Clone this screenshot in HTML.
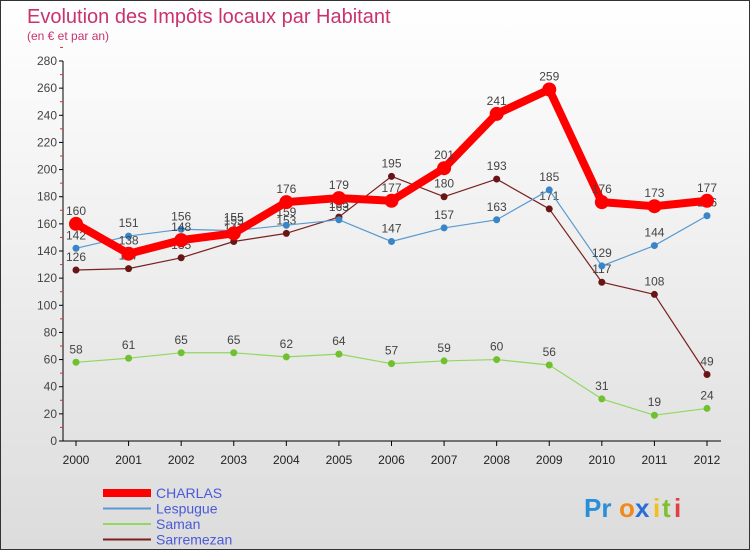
<!DOCTYPE html>
<html><head><meta charset="utf-8"><style>
body{margin:0;}
#c{width:748px;height:548px;border:1px solid #333;background:linear-gradient(#fff,#dcdcdc);position:relative;overflow:hidden;font-family:"Liberation Sans",sans-serif;}
</style></head><body>
<div id="c">
<svg id="s" width="748" height="548" xmlns="http://www.w3.org/2000/svg">
<text x="26" y="22" font-size="20" fill="#c8336e">Evolution des Impôts locaux par Habitant</text>
<text x="26" y="39" font-size="12" fill="#c8336e">(en € et par an)</text>
<g id="ax"></g><g id="ser"></g><g id="leg"></g>
<g font-size="26" font-weight="bold">
<text x="583" y="516" fill="#2a8fd8">Pr</text><text x="618" y="516" fill="#f08a1c">o</text><text x="634" y="516" fill="#2a6fd8">x</text><text x="652" y="516" fill="#f0c01c">i</text><text x="661" y="516" fill="#80c030">t</text><text x="673" y="516" fill="#e04040">i</text>
</g>
</svg>
</div>
<script>
const years=["2000","2001","2002","2003","2004","2005","2006","2007","2008","2009","2010","2011","2012"];
const charlas=[160,138,148,153,176,179,177,201,241,259,176,173,177];
const lespugue=[142,151,156,155,159,163,147,157,163,185,129,144,166];
const saman=[58,61,65,65,62,64,57,59,60,56,31,19,24];
const sarremezan=[126,127,135,147,153,165,195,180,193,171,117,108,49];
const yTicks=[0,20,40,60,80,100,120,140,160,180,200,220,240,260,280];
const NS="http://www.w3.org/2000/svg";
const x=i=>75+i*(706-75)/(years.length-1);
const y=v=>440-v*380/280;
function mk(t,a,p){const e=document.createElementNS(NS,t);for(const k in a)e.setAttribute(k,a[k]);p.appendChild(e);return e;}
const ax=document.getElementById('ax');
let l=mk('line',{x1:62,y1:60,x2:62,y2:440,stroke:'#000'},ax);


l=mk('line',{x1:62,y1:440,x2:720,y2:440,stroke:'#000'},ax);


yTicks.forEach(v=>{mk('line',{x1:58,y1:y(v),x2:62,y2:y(v),stroke:'#000'},ax);
 mk('line',{x1:59,y1:y(v+10),x2:62,y2:y(v+10),stroke:'#e03030'},ax);
 const t=mk('text',{x:56,y:y(v)+4,'font-size':12,fill:'#444','text-anchor':'end'},ax);t.textContent=v;
 
 });
years.forEach((yr,i)=>{mk('line',{x1:x(i),y1:440,x2:x(i),y2:445,stroke:'#000'},ax);
 const t=mk('text',{x:x(i),y:463,'font-size':12,fill:'#222','text-anchor':'middle'},ax);t.textContent=yr;
 
 });
const ser=document.getElementById('ser');
const series=[
 {n:'Saman',d:saman,c:'#90d860',dc:'#70c030',w:1.2,r:3.5},
 {n:'Sarremezan',d:sarremezan,c:'#7a2020',dc:'#6a1515',w:1.2,r:3.5},
 {n:'Lespugue',d:lespugue,c:'#5a9ad0',dc:'#3a85c8',w:1.2,r:3.5},
 {n:'CHARLAS',d:charlas,c:'#ff0000',dc:'#ff0000',w:8,r:7}];
series.forEach(s=>{const g=mk('g',{},ser);
 
 
 mk('polyline',{points:s.d.map((v,i)=>x(i)+','+y(v)).join(' '),fill:'none',stroke:s.c,'stroke-width':s.w,'stroke-linejoin':'round'},g);
 s.d.forEach((v,i)=>{const p=mk('circle',{cx:x(i),cy:y(v),r:s.r,fill:s.dc},g);
  
  
  const t=mk('text',{x:x(i),y:y(v)-9,'font-size':12,fill:'#444','text-anchor':'middle'},g);t.textContent=v;
  
  });});
const leg=document.getElementById('leg');
[{n:'CHARLAS',c:'#ff0000',w:8},{n:'Lespugue',c:'#5a9ad0',w:2},{n:'Saman',c:'#90d860',w:2},{n:'Sarremezan',c:'#7a2020',w:2}].forEach((e,i)=>{
 const g=mk('g',{},leg);
 
 
 const yy=492+i*15.5;
 mk('line',{x1:102,y1:yy,x2:150,y2:yy,stroke:e.c,'stroke-width':e.w},g);
 const t=mk('text',{x:155,y:yy+5,'font-size':14,fill:'#4a5ad8'},g);t.textContent=e.n;});
</script>
</body></html>
